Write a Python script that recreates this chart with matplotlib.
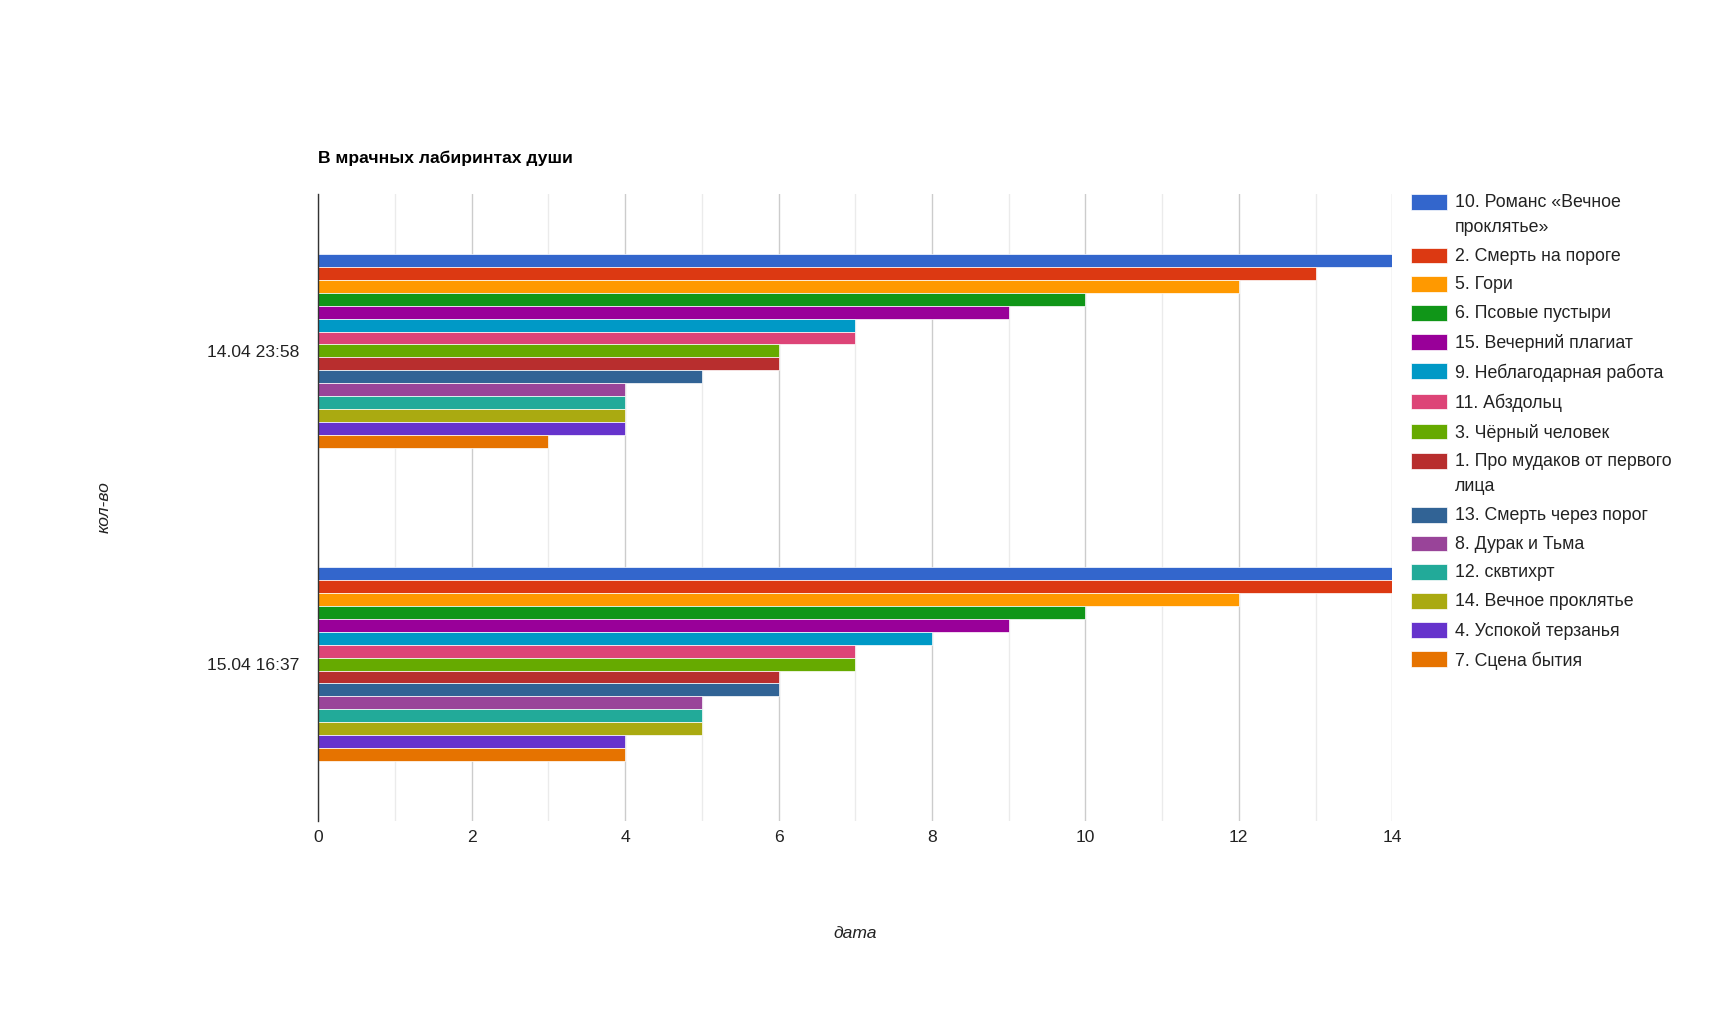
import matplotlib
matplotlib.use("Agg")
import matplotlib.pyplot as plt
import numpy as np

plt.rcParams['font.family'] = ['Liberation Sans', 'DejaVu Sans']

# данные
dates = ['14.04 23:58', '15.04 16:37']
songs = [
    '10. Романс «Вечное\nпроклятье»',
    '2. Смерть на пороге',
    '5. Гори',
    '6. Псовые пустыри',
    '15. Вечерний плагиат',
    '9. Неблагодарная работа',
    '11. Абздольц',
    '3. Чёрный человек',
    '1. Про мудаков от первого\nлица',
    '13. Смерть через порог',
    '8. Дурак и Тьма',
    '12. сквтихрт',
    '14. Вечное проклятье',
    '4. Успокой терзанья',
    '7. Сцена бытия',
]
votes_1404 = [14, 13, 12, 10, 9, 7, 7, 6, 6, 5, 4, 4, 4, 4, 3]
votes_1504 = [14, 14, 12, 10, 9, 8, 7, 7, 6, 6, 5, 5, 5, 4, 4]

colors = ['#3366cc', '#dc3912', '#ff9900', '#109618', '#990099', '#0099c6',
          '#dd4477', '#66aa00', '#b82e2e', '#316395', '#994499', '#22aa99',
          '#aaaa11', '#6633cc', '#e67300']

fs = 12.6
fig = plt.figure(figsize=(17.11, 10.14), dpi=100)
ax = fig.add_axes([0.18603, 0.19063, 0.6277, 0.61775])

n = len(songs)
group = 0.618
bh = group / n
ypos = np.arange(len(dates))
values = np.array([votes_1404, votes_1504])

for i in range(n):
    off = -group / 2 + (i + 0.5) * bh
    ax.barh(ypos + off, values[:, i], height=bh, color=colors[i],
            edgecolor='white', linewidth=0.5, label=songs[i], zorder=3)

ax.set_xlim(0, 14)
ax.set_ylim(1.5, -0.5)
ax.set_xticks(range(0, 15, 2))
ax.set_xticks(range(1, 15, 2), minor=True)
ax.set_yticks(ypos)
ax.set_yticklabels(dates)
ax.grid(axis='x', which='major', color='#cccccc', linewidth=1)
ax.grid(axis='x', which='minor', color='#ebebeb', linewidth=1)
ax.set_axisbelow(True)
ax.tick_params(axis='both', which='both', length=0, labelsize=fs, labelcolor='#222222')
ax.tick_params(axis='x', pad=6.8)
ax.tick_params(axis='y', pad=13.9)
for s in ['top', 'right', 'bottom']:
    ax.spines[s].set_visible(False)
ax.spines['left'].set_color('#333333')
ax.spines['left'].set_linewidth(1)
ax.spines['left'].set_zorder(4)

ax.set_title('В мрачных лабиринтах души', loc='left', pad=22.7,
             fontsize=fs, fontweight='bold', color='#000000')
ax.set_xlabel('дата', fontsize=fs, style='italic', color='#222222', va='center')
ax.xaxis.set_label_coords(0.5, (820.7 - 933) / 626.4)
ax.set_ylabel('кол-во', fontsize=fs, style='italic', color='#222222', va='center')
ax.yaxis.set_label_coords((104 - 318.3) / 1074, 0.5)

leg = ax.legend(loc='upper left', bbox_to_anchor=(1411 / 1711, 1 - 194 / 1014),
                bbox_transform=fig.transFigure, frameon=False, fontsize=12.8,
                borderpad=0, borderaxespad=0, handlelength=2.0, handleheight=1.0,
                handletextpad=0.47, labelspacing=0.66)
for t in leg.get_texts():
    t.set_color('#222222')
    t.set_linespacing(1.6)
for col in leg._legend_handle_box.get_children():
    for item in col.get_children():
        item.align = 'top'

fig.savefig('out.png', dpi=100, facecolor='white')
